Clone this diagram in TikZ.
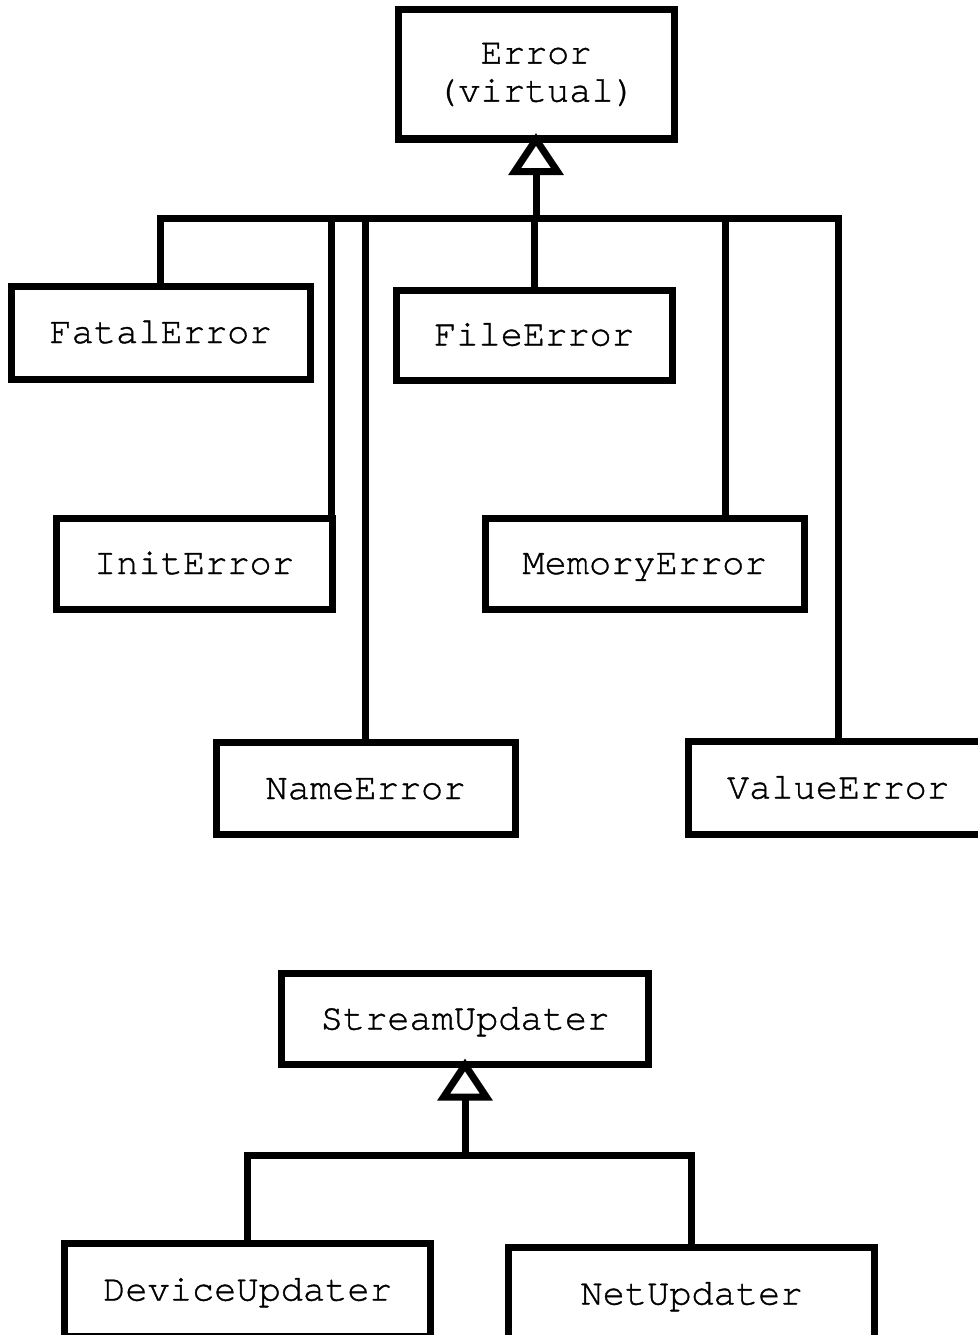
\documentclass[tikz,border=0pt]{standalone}
\usepackage{fontspec}
\setmonofont{texgyrecursor-regular.otf}[FakeBold=1]
\usetikzlibrary{arrows.meta}
\begin{document}
\begin{tikzpicture}[x=1pt,y=-1pt,
  cls/.style={draw, line width=7pt, rectangle, inner sep=0pt, outer sep=0pt,
    font=\ttfamily\fontsize{37}{38}\selectfont, text height=28pt, text depth=7pt},
  link/.style={line width=7pt},
  inherit/.style={line width=7pt, -{Triangle[open,length=42pt,width=54pt]}, shorten >=-6pt}]
\useasboundingbox[fill=white] (0,0) rectangle (977,1335);

% error hierarchy
\node[cls, minimum width=276pt, minimum height=129pt, align=center,
      text height=, text depth=] (error) at (536,74.5) {Error\\(virtual)};
\node[cls, minimum width=299pt, minimum height=93pt] (fatal) at (160.5,332.5) {FatalError};
\node[cls, minimum width=276pt, minimum height=90pt] (file) at (534,335) {FileError};
\node[cls, minimum width=276pt, minimum height=91pt] (init) at (194,563.5) {InitError};
\node[cls, minimum width=319pt, minimum height=91pt] (memory) at (644.5,563.5) {MemoryError};
\node[cls, minimum width=299pt, minimum height=92pt] (name) at (365.5,788.5) {NameError};
\node[cls, minimum width=299pt, minimum height=93pt] (value) at (838,788) {ValueError};

\coordinate (errbus) at (536,218);
\draw[inherit] (errbus) -- (error.south);
\draw[link] (fatal.north) |- (errbus);
\draw[link] ([xshift=-1pt]init.north east) |- (errbus);
\draw[link] (name.north) |- (errbus);
\draw[link] (file.north) -- (file.north |- errbus);
\draw[link] ([xshift=80.5pt]memory.north) |- (errbus);
\draw[link] (value.north) |- (errbus);

% updater hierarchy
\node[cls, minimum width=367pt, minimum height=91pt] (stream) at (465,1019) {StreamUpdater};
\node[cls, minimum width=366pt, minimum height=93pt] (device) at (247.5,1290) {DeviceUpdater};
\node[cls, minimum width=366pt, minimum height=93pt] (net) at (691.5,1294) {NetUpdater};

\coordinate (strbus) at (465,1155);
\draw[inherit] (strbus) -- (stream.south);
\draw[link] (device.north) |- (strbus);
\draw[link] (net.north) |- (strbus);
\end{tikzpicture}
\end{document}
